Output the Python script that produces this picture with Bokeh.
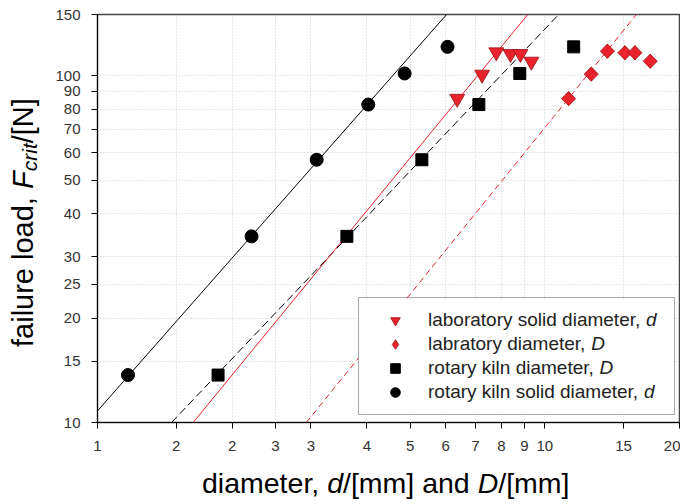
import math
from bokeh.plotting import figure
from bokeh.models import FixedTicker, Label, Legend, LegendItem, Div, BoxAnnotation
from bokeh.layouts import row, column
from bokeh.embed import file_html
from bokeh.resources import INLINE

# ---------------- data ----------------
rk_solid_d = [1.17, 2.21, 3.09, 4.03, 4.86, 6.06]
rk_solid_F = [13.7, 34.4, 57.2, 82.5, 101.4, 121.0]

rk_D = [1.86, 3.61, 5.31, 7.12, 8.79, 11.6]
rk_D_F = [13.7, 34.4, 57.2, 82.5, 101.4, 121.0]

lab_solid_d = [6.37, 7.24, 7.79, 8.38, 8.82, 9.33]
lab_solid_F = [85.8, 100.7, 116.8, 115.5, 115.5, 109.8]

lab_D = [11.3, 12.7, 13.8, 15.1, 15.9, 17.2]
lab_D_F = [85.8, 101.0, 117.6, 116.4, 116.4, 110.0]

# fitted power-law lines (end points)
fit_rk_solid_x = [1.0, 6.03]
fit_rk_solid_y = [10.8, 150.0]
fit_rk_D_x = [1.464, 10.74]
fit_rk_D_y = [10.0, 150.0]
fit_lab_solid_x = [1.636, 9.16]
fit_lab_solid_y = [10.0, 150.0]
fit_lab_D_x = [2.93, 16.02]
fit_lab_D_y = [10.0, 150.0]

x_ticks = [1, 1.5, 2, 2.5, 3, 4, 5, 6, 7, 8, 9, 10, 15, 20]
x_tick_labels = ["1", "2", "2", "3", "3", "4", "5", "6", "7", "8", "9", "10", "15", "20"]
y_ticks = [10, 15, 20, 25, 30, 40, 50, 60, 70, 80, 90, 100, 150]
y_tick_labels = ["10", "15", "20", "25", "30", "40", "50", "60", "70", "80", "90", "100", "150"]

legend_labels = ["laboratory solid diameter, ", "labratory diameter, ",
                 "rotary kiln diameter, ", "rotary kiln solid diameter, "]
legend_italic = ["d", "D", "D", "d"]

FONT = "Liberation Sans"
RED = "#e8232b"
RED_EDGE = "#9a1016"

YDIV_W = 45

p = figure(width=680 - YDIV_W, height=458, x_axis_type="log", y_axis_type="log",
           x_range=(1, 20), y_range=(10, 150),
           output_backend="svg", toolbar_location=None,
           min_border_left=97 - YDIV_W, min_border_right=1, min_border_top=14, min_border_bottom=36)

p.outline_line_color = "#444444"
p.outline_line_width = 1.5
p.background_fill_color = "white"
p.border_fill_color = "white"

for ax, ticks, labels in ((p.xaxis[0], x_ticks, x_tick_labels), (p.yaxis[0], y_ticks, y_tick_labels)):
    ax.ticker = FixedTicker(ticks=ticks)
    ax.major_label_overrides = {t: l for t, l in zip(ticks, labels)}
    ax.minor_tick_line_color = None
    ax.major_tick_in = 0
    ax.major_tick_out = 6
    ax.axis_line_color = "black"
    ax.major_tick_line_color = "black"
    ax.major_label_text_font = FONT
    ax.major_label_text_font_size = "15px"
    ax.major_label_text_color = "#333333"

p.xaxis.major_label_standoff = 12
p.yaxis.major_label_standoff = 11

for g, ticks in ((p.xgrid[0], x_ticks), (p.ygrid[0], y_ticks)):
    g.ticker = FixedTicker(ticks=ticks)
    g.grid_line_color = "#cfcfcf"
    g.grid_line_dash = "1 2"
    g.grid_line_width = 1

# fit lines
p.line(fit_rk_solid_x, fit_rk_solid_y, line_color="black", line_width=1)
p.line(fit_rk_D_x, fit_rk_D_y, line_color="black", line_width=1, line_dash="8 4")
p.line(fit_lab_solid_x, fit_lab_solid_y, line_color=RED, line_width=1)
p.line(fit_lab_D_x, fit_lab_D_y, line_color=RED, line_width=1, line_dash="6 4")

# markers
r_lab_solid = p.scatter(lab_solid_d, lab_solid_F, marker="inverted_triangle", size=15,
                        fill_color=RED, line_color=RED_EDGE, line_width=0.8)
# diamond glyph (used as legend key), covered by the rotated squares on top
r_lab_D_key = p.scatter(lab_D, lab_D_F, marker="diamond", size=14,
                        fill_color=RED, line_color=RED_EDGE, line_width=0.8)
r_lab_D = p.scatter(lab_D, lab_D_F, marker="square", angle=math.pi / 4, size=10,
                    fill_color=RED, line_color=RED_EDGE, line_width=0.8)
r_rk_D = p.scatter(rk_D, rk_D_F, marker="square", size=12, fill_color="black", line_color="black")
r_rk_solid = p.scatter(rk_solid_d, rk_solid_F, marker="circle", size=13,
                       fill_color="black", line_color="black")

# white box under the legend (legend itself transparent)
p.add_layout(BoxAnnotation(left=261, right=576, bottom=7, top=123,
                           left_units="screen", right_units="screen",
                           bottom_units="screen", top_units="screen",
                           fill_color="white", fill_alpha=1.0, line_color=None,
                           level="annotation"))

legend = Legend(items=[LegendItem(label=l, renderers=[r]) for l, r in
                       zip(legend_labels, [r_lab_solid, r_lab_D_key, r_rk_D, r_rk_solid])],
                location=(261, 7), padding=10, spacing=0, glyph_width=52, glyph_height=24,
                label_height=24, label_standoff=7, label_width=236,
                label_text_font=FONT, label_text_font_size="19px", label_text_color="#222222",
                border_line_color="#555555", border_line_width=1.5,
                background_fill_alpha=0.0, margin=0)
p.add_layout(legend, "center")

# italic letters in legend
lw = {"laboratory solid diameter, ": 218.6, "labratory diameter, ": 163.7,
      "rotary kiln diameter, ": 172.1, "rotary kiln solid diameter, ": 216.4}
for i, (lab, it) in enumerate(zip(legend_labels, legend_italic)):
    p.add_layout(Label(x=330 + lw[lab], y=103 - 24 * i, x_units="screen", y_units="screen",
                       text=it, text_font=FONT, text_font_style="italic", level="overlay",
                       text_font_size="19px", text_baseline="middle", text_color="#222222"))

# axis titles as HTML (italic / subscript pieces)
x_title = "diameter, <i>d</i>/[mm] and <i>D</i>/[mm]"
y_title = "failure load, <i>F</i><sub style='font-size:21px'><i>crit</i></sub>/[N]"

xdiv = Div(width=680 - YDIV_W, height=38, margin=0,
           text=("<div style=\"font-family:'Liberation Sans',Arial,sans-serif;font-size:28.5px;"
                 "line-height:28px;padding:11px 0 0 %dpx;white-space:nowrap;color:#000;\">%s</div>"
                 % (202 - YDIV_W, x_title)))
ydiv = Div(width=YDIV_W, height=496, margin=0,
           text=("<div style=\"font-family:'Liberation Sans',Arial,sans-serif;font-size:29px;"
                 "line-height:28px;writing-mode:vertical-rl;transform:rotate(180deg);"
                 "box-sizing:border-box;width:%dpx;height:496px;padding:149px 9px 0 0;"
                 "white-space:nowrap;color:#000;\">%s</div>" % (YDIV_W, y_title)))

layout = row(ydiv, column(p, xdiv, spacing=0), spacing=0)

open("out.html", "w").write(file_html(layout, INLINE))
